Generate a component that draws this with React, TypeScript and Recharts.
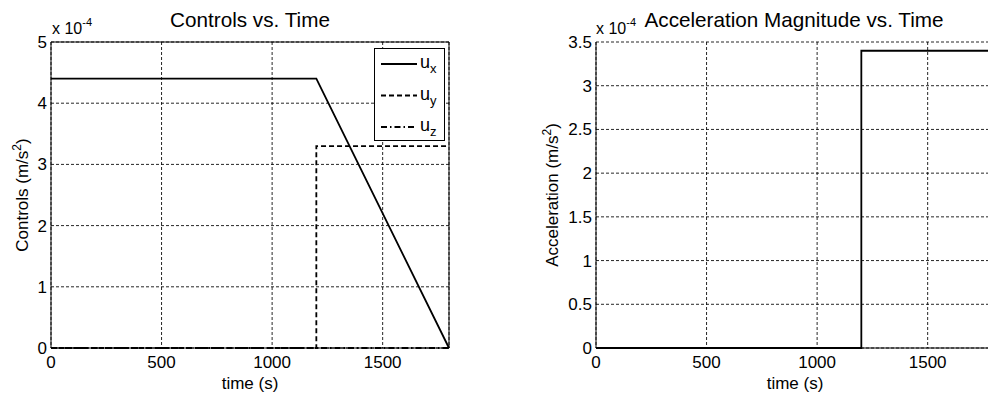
import React from 'react';
import { CartesianGrid, Legend, Line, LineChart, ReferenceLine, XAxis, YAxis } from 'recharts';

// time axis (s)
const TIME_TICKS = [0, 500, 1000, 1500];
const CONTROL_TICKS = [0, 1, 2, 3, 4, 5];
const ACCEL_TICKS = [0, 0.5, 1, 1.5, 2, 2.5, 3, 3.5];

// all values in units of 1e-4 m/s^2
const uxTime = [0, 1200, 1800];
const uxValue = [4.4, 4.4, 0];
const uyTime = [0, 1200, 1200, 1800];
const uyValue = [0, 0, 3.3, 3.3];
const uzTime = [0, 1800];
const uzValue = [0, 0];
const accelTime = [0, 1200, 1200, 1800];
const accelValue = [0, 0, 3.4, 3.4];

const toPoints = (t: number[], v: number[]) => t.map((time, i) => ({ time, value: v[i] }));

const CONTROL_SERIES = [
  { key: 'ux', sub: 'x', data: toPoints(uxTime, uxValue), dash: undefined },
  { key: 'uy', sub: 'y', data: toPoints(uyTime, uyValue), dash: '5 3' },
  { key: 'uz', sub: 'z', data: toPoints(uzTime, uzValue), dash: '6 3 1.5 3' },
];

const FONT = '"Liberation Sans", Arial, sans-serif';
const GRID = { stroke: '#000', strokeDasharray: '3 2', strokeOpacity: 0.85 };
const TICK = { fill: '#000', fontSize: 17 };

const W = 470;
const H = 397;
const X_AXIS_H = 49;
const TOP = 42;

const YTitle = ({ viewBox, text }: any) => {
  const cx = viewBox.x + 27.5;
  const cy = viewBox.y + viewBox.height / 2;
  return (
    <text x={cx} y={cy} transform={`rotate(-90 ${cx} ${cy})`} textAnchor="middle" fontSize={17} fill="#000">
      {text} (m/s<tspan fontSize={12} dy={-7}>2</tspan><tspan dy={7}>)</tspan>
    </text>
  );
};

const renderLegend = () => (
  <div style={{ width: 71, height: 93, boxSizing: 'border-box', border: '1px solid #000', background: '#fff' }}>
    <svg width={69} height={91} style={{ display: 'block' }}>
      {CONTROL_SERIES.map((s, i) => {
        const y = 15 + i * 31.5;
        return (
          <g key={s.key}>
            <line x1={6} x2={42} y1={y} y2={y} stroke="#000" strokeWidth={1.8} strokeDasharray={s.dash} />
            <text x={45} y={y + 4} fontSize={18} fill="#000">
              u<tspan fontSize={13} dy={5}>{s.sub}</tspan>
            </text>
          </g>
        );
      })}
    </svg>
  </div>
);

const AxisMultiplier = ({ x }: { x: number }) => (
  <text x={x} y={34} fontSize={16} fill="#000">
    x 10<tspan fontSize={11} dy={-8}>-4</tspan>
  </text>
);

export default function App() {
  const leftPlot = { x: 51, w: W - 21 - 51 };
  const rightPlot = { x: 530 + 66, w: W - 6 - 66 };

  return (
    <div style={{ position: 'fixed', left: 0, top: 0, width: 988, height: H, overflow: 'hidden', background: '#fff', fontFamily: FONT }}>
      <div style={{ position: 'absolute', left: 0, top: 0 }}>
        <LineChart width={W} height={H} margin={{ top: TOP, right: 21, bottom: 0, left: 0 }}>
          <CartesianGrid {...GRID} />
          <XAxis
            dataKey="time"
            type="number"
            domain={[0, 1800]}
            ticks={TIME_TICKS}
            interval={0}
            height={X_AXIS_H}
            tick={TICK}
            tickLine={false}
            tickSize={0}
            tickMargin={8}
            axisLine={{ stroke: '#000' }}
            label={{ value: 'time (s)', position: 'insideBottom', offset: 8, fill: '#000', fontSize: 17 }}
          />
          <YAxis
            type="number"
            domain={[0, 5]}
            ticks={CONTROL_TICKS}
            interval={0}
            width={51}
            tick={TICK}
            tickLine={false}
            tickSize={0}
            tickMargin={4}
            axisLine={{ stroke: '#000' }}
            label={<YTitle text="Controls" />}
          />
          <ReferenceLine y={5} stroke="#000" />
          <ReferenceLine x={1800} stroke="#000" />
          {CONTROL_SERIES.map(s => (
            <Line
              key={s.key}
              data={s.data}
              dataKey="value"
              name={s.key}
              type="linear"
              stroke="#000"
              strokeWidth={1.8}
              strokeDasharray={s.dash}
              dot={false}
              activeDot={false}
              isAnimationActive={false}
            />
          ))}
          <Legend
            layout="vertical"
            align="center"
            verticalAlign="middle"
            content={renderLegend}
            wrapperStyle={{ position: 'absolute', left: 374, top: 48, width: 71, height: 93 }}
          />
        </LineChart>
      </div>

      <div style={{ position: 'absolute', left: 530, top: 0 }}>
        <LineChart width={W} height={H} margin={{ top: TOP, right: 6, bottom: 0, left: 0 }}>
          <CartesianGrid {...GRID} />
          <XAxis
            dataKey="time"
            type="number"
            domain={[0, 1800]}
            ticks={TIME_TICKS}
            interval={0}
            height={X_AXIS_H}
            tick={TICK}
            tickLine={false}
            tickSize={0}
            tickMargin={8}
            axisLine={{ stroke: '#000' }}
            label={{ value: 'time (s)', position: 'insideBottom', offset: 8, fill: '#000', fontSize: 17 }}
          />
          <YAxis
            type="number"
            domain={[0, 3.5]}
            ticks={ACCEL_TICKS}
            interval={0}
            width={66}
            tick={TICK}
            tickLine={false}
            tickSize={0}
            tickMargin={4}
            axisLine={{ stroke: '#000' }}
            label={<YTitle text="Acceleration" />}
          />
          <Line
            data={toPoints(accelTime, accelValue)}
            dataKey="value"
            name="accel"
            type="linear"
            stroke="#000"
            strokeWidth={1.8}
            dot={false}
            activeDot={false}
            isAnimationActive={false}
          />
        </LineChart>
      </div>

      <svg width={988} height={H} style={{ position: 'absolute', left: 0, top: 0, pointerEvents: 'none' }}>
        <text x={leftPlot.x + leftPlot.w / 2} y={27} textAnchor="middle" fontSize={20.7} fill="#000">
          Controls vs. Time
        </text>
        <AxisMultiplier x={leftPlot.x + 1} />
        <text x={rightPlot.x + rightPlot.w / 2 - 1} y={27} textAnchor="middle" fontSize={20.7} fill="#000">
          Acceleration Magnitude vs. Time
        </text>
        <AxisMultiplier x={rightPlot.x} />
      </svg>
    </div>
  );
}
